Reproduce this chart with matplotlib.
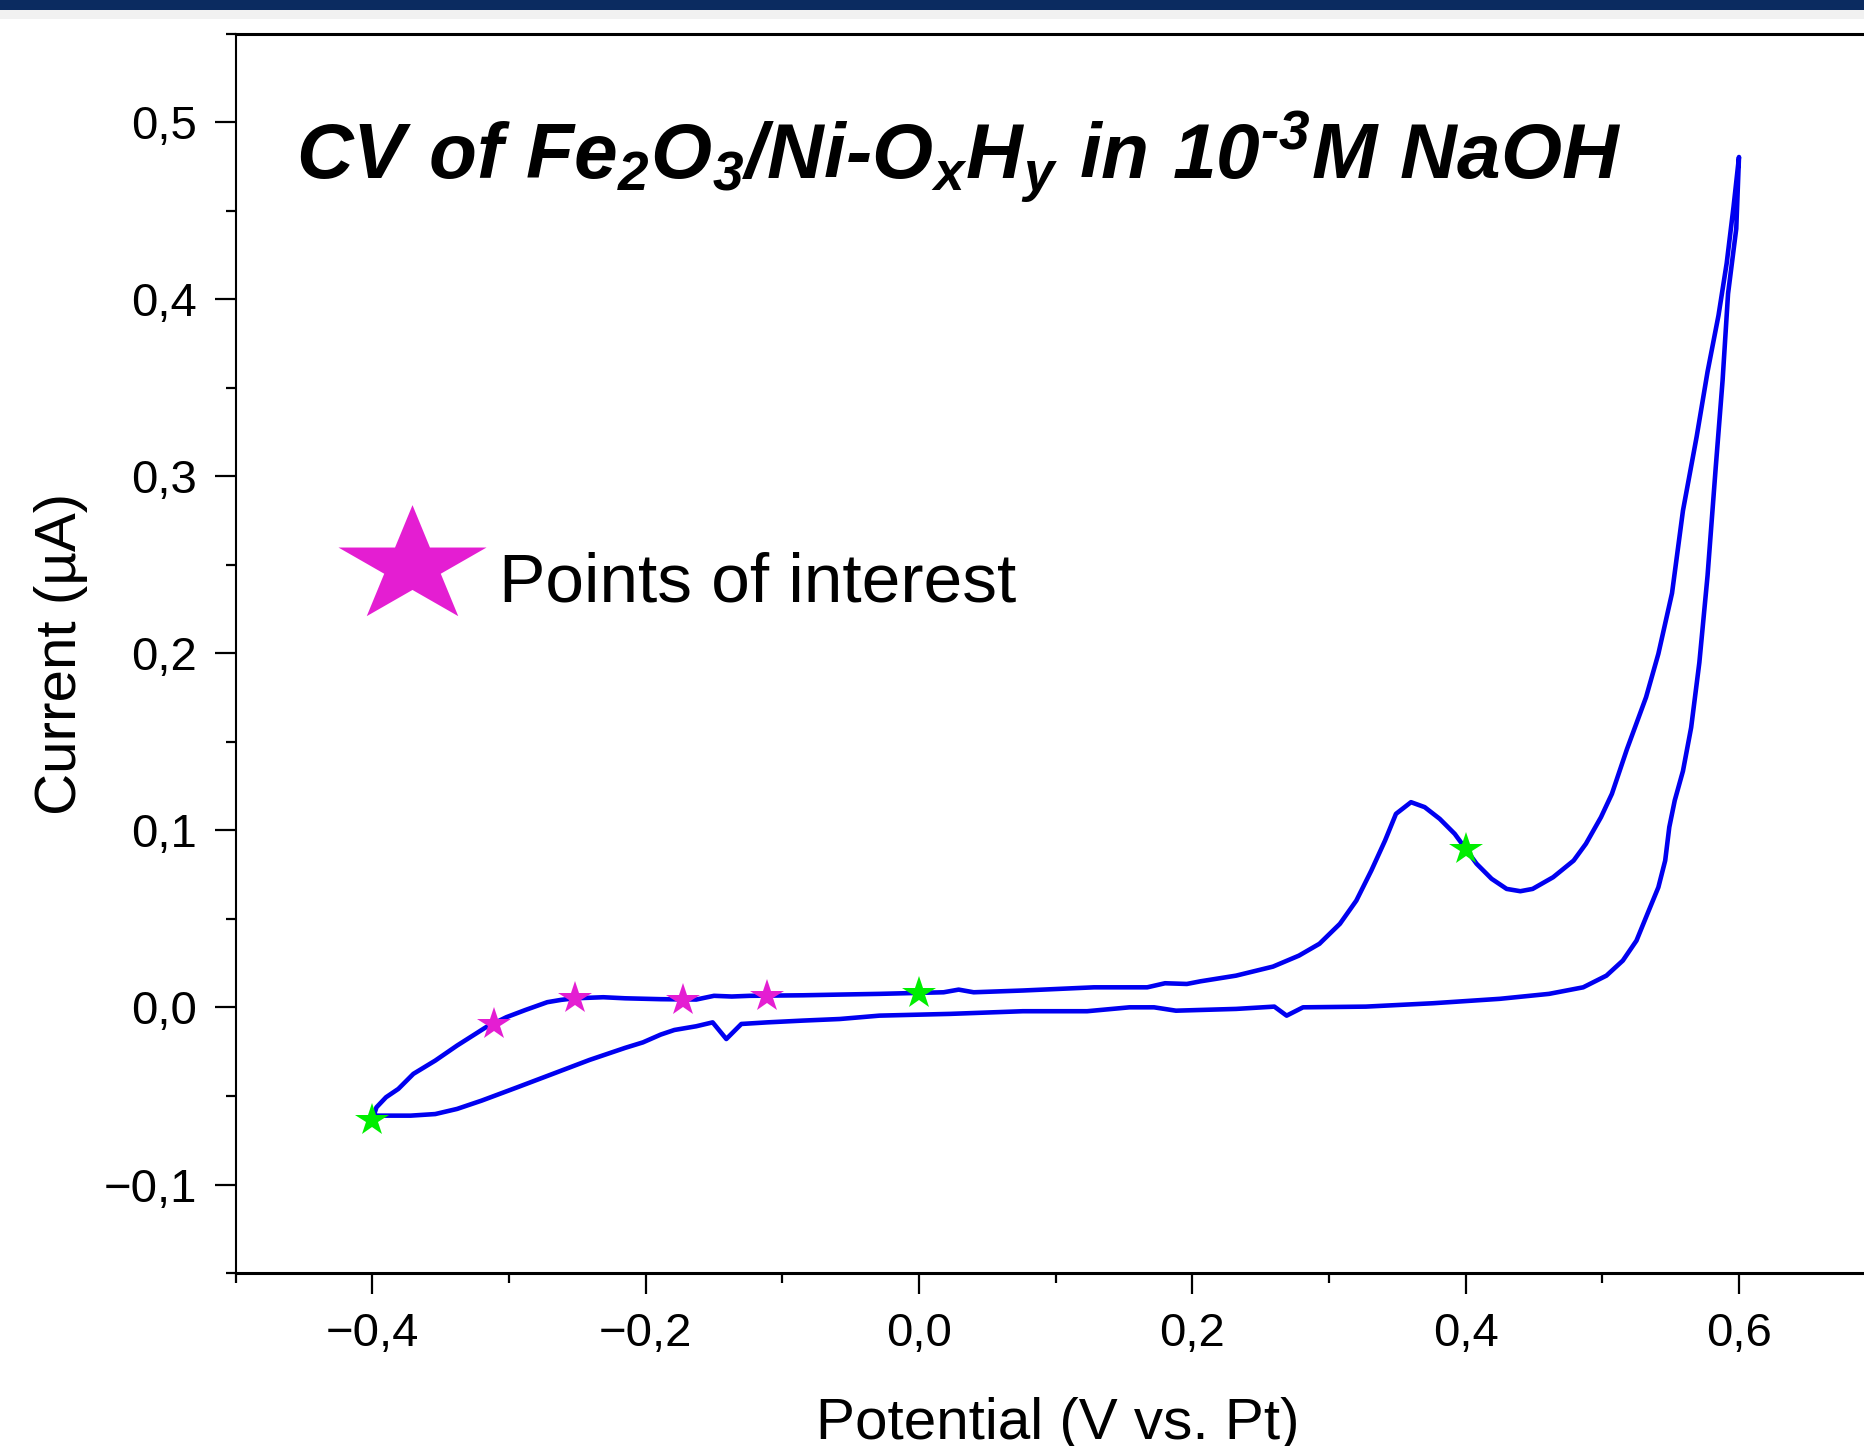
import numpy as np
import matplotlib
matplotlib.use('Agg')
import matplotlib.pyplot as plt
from matplotlib.path import Path
from matplotlib.patches import Rectangle
from matplotlib.ticker import MultipleLocator, FuncFormatter

plt.rcParams['font.family'] = ['Liberation Sans', 'DejaVu Sans']
# title uses mathtext for the sub/superscripts -> bold italic Arial-like face
plt.rcParams['mathtext.fontset'] = 'custom'
plt.rcParams['mathtext.rm'] = 'Liberation Sans:bold:italic'
plt.rcParams['mathtext.it'] = 'Liberation Sans:bold:italic'
plt.rcParams['mathtext.bf'] = 'Liberation Sans:bold:italic'

# anodic sweep, -0.4 V -> 0.6 V
forward_potential = [-0.400, -0.397, -0.390, -0.381, -0.370, -0.354, -0.338, -0.317,
                     -0.302, -0.288, -0.272, -0.262, -0.252, -0.231, -0.215, -0.189,
                     -0.163, -0.150, -0.137, -0.124, -0.085, -0.058, -0.029, 0.018,
                     0.029, 0.040, 0.076, 0.128, 0.167, 0.180, 0.196, 0.206,
                     0.232, 0.259, 0.278, 0.293, 0.308, 0.320, 0.331, 0.341,
                     0.349, 0.360, 0.370, 0.381, 0.392, 0.408, 0.419, 0.430,
                     0.440, 0.449, 0.464, 0.479, 0.488, 0.499, 0.507, 0.518,
                     0.532, 0.541, 0.551, 0.559, 0.569, 0.577, 0.585, 0.591,
                     0.596, 0.600]
forward_current = [-0.0635, -0.0564, -0.0507, -0.0460, -0.0375, -0.0300, -0.0215, -0.0112,
                   -0.0055, -0.0014, 0.0030, 0.0043, 0.0052, 0.0058, 0.0052, 0.0047,
                   0.0045, 0.0066, 0.0062, 0.0066, 0.0069, 0.0073, 0.0077, 0.0086,
                   0.0101, 0.0086, 0.0096, 0.0114, 0.0114, 0.0137, 0.0133, 0.0148,
                   0.0180, 0.0231, 0.0293, 0.0360, 0.0473, 0.0604, 0.0774, 0.0943,
                   0.1094, 0.1160, 0.1132, 0.1066, 0.0981, 0.0812, 0.0727, 0.0670,
                   0.0657, 0.0670, 0.0736, 0.0830, 0.0925, 0.1075, 0.1207, 0.1459,
                   0.1753, 0.1998, 0.2341, 0.2807, 0.3224, 0.3592, 0.3910, 0.4205,
                   0.4523, 0.4805]

# cathodic sweep, 0.6 V -> -0.4 V
reverse_potential = [0.598, 0.592, 0.588, 0.583, 0.577, 0.571, 0.565, 0.559,
                     0.553, 0.549, 0.546, 0.541, 0.533, 0.525, 0.515, 0.503,
                     0.486, 0.461, 0.425, 0.376, 0.327, 0.281, 0.269, 0.260,
                     0.232, 0.188, 0.172, 0.154, 0.123, 0.076, 0.023, -0.029,
                     -0.058, -0.085, -0.111, -0.130, -0.141, -0.151, -0.163, -0.179,
                     -0.189, -0.202, -0.215, -0.241, -0.268, -0.294, -0.320, -0.338,
                     -0.354, -0.372, -0.390, -0.400]
reverse_current = [0.4400, 0.4033, 0.3543, 0.3053, 0.2440, 0.1949, 0.1582, 0.1336,
                   0.1170, 0.1019, 0.0830, 0.0679, 0.0529, 0.0378, 0.0265, 0.0180,
                   0.0114, 0.0077, 0.0049, 0.0024, 0.0005, 0.0001, -0.0046, 0.0005,
                   -0.0008, -0.0018, 0.0001, 0.0001, -0.0021, -0.0021, -0.0036, -0.0046,
                   -0.0065, -0.0074, -0.0084, -0.0093, -0.0178, -0.0084, -0.0106, -0.0127,
                   -0.0153, -0.0197, -0.0228, -0.0296, -0.0375, -0.0451, -0.0526, -0.0573,
                   -0.0602, -0.0611, -0.0611, -0.0611]

# points of interest (magenta) and reference points (green)
interest_potential = [-0.311, -0.252, -0.173, -0.111]
interest_current = [-0.0093, 0.0052, 0.0045, 0.0066]
reference_potential = [-0.400, 0.000, 0.400]
reference_current = [-0.0635, 0.0083, 0.0897]

title_text = r'$\mathrm{CV\ of\ Fe_2O_3/Ni‐O_xH_y\ in\ 10^{‐3}M\ NaOH}$'
legend_text = 'Points of interest'
x_label = 'Potential (V vs. Pt)'
y_label = 'Current (µA)'

LINE_BLUE = '#0000F0'
MAGENTA = '#E41ED2'
GREEN = '#00EE00'


def comma_fmt(v, pos):
    v = round(v, 3)
    if abs(v) < 1e-9:
        v = 0.0
    return f'{v:.1f}'.replace('.', ',').replace('-', '\u2212')


def stretched_star(xscale=1.268):
    # five point star, wider than a regular one (as drawn in the original legend)
    ang = np.deg2rad(90 + 36 * np.arange(10))
    r = np.where(np.arange(10) % 2 == 0, 1.0, 0.382)
    verts = np.column_stack([r * np.cos(ang) * xscale, r * np.sin(ang)])
    verts = np.vstack([verts, verts[:1]])
    codes = [Path.MOVETO] + [Path.LINETO] * 9 + [Path.CLOSEPOLY]
    return Path(verts, codes)


fig = plt.figure(figsize=(18.64, 14.46), dpi=100)
fig.patch.set_facecolor('white')

# header strip of the slide the chart was cut from
fig.add_artist(Rectangle((0, 1 - 9.5 / 1446), 1, 9.5 / 1446, transform=fig.transFigure,
                         facecolor='#0B2B60', edgecolor='none', zorder=0))
fig.add_artist(Rectangle((0, 1 - 19 / 1446), 1, 9.5 / 1446, transform=fig.transFigure,
                         facecolor='#F1F1F1', edgecolor='none', zorder=0))

ax = fig.add_axes([0.12645, 0.11964, 0.8798, 0.85685])

potential = forward_potential + reverse_potential
current = forward_current + reverse_current
ax.plot(potential, current, color=LINE_BLUE, lw=3.3, solid_joinstyle='round',
        solid_capstyle='round', zorder=2)

ax.plot(interest_potential, interest_current, ls='none', marker='*', markersize=25,
        color=MAGENTA, markeredgewidth=0, zorder=3)
ax.plot(reference_potential, reference_current, ls='none', marker='*', markersize=25,
        color=GREEN, markeredgewidth=0, zorder=3)

ax.set_xlim(-0.5, 0.7)
ax.set_ylim(-0.15, 0.55)

ax.xaxis.set_major_locator(MultipleLocator(0.2))
ax.xaxis.set_minor_locator(MultipleLocator(0.1))
ax.yaxis.set_major_locator(MultipleLocator(0.1))
ax.yaxis.set_minor_locator(MultipleLocator(0.05))
ax.xaxis.set_major_formatter(FuncFormatter(comma_fmt))
ax.yaxis.set_major_formatter(FuncFormatter(comma_fmt))

ax.tick_params(which='major', direction='out', length=15, width=1.6, labelsize=34,
               top=False, right=False)
ax.tick_params(which='minor', direction='out', length=7.5, width=1.6,
               top=False, right=False)
ax.tick_params(axis='x', which='major', pad=13)
ax.tick_params(axis='y', which='major', pad=13)

ax.spines['right'].set_visible(False)
ax.spines['top'].set_linewidth(2.2)
ax.spines['bottom'].set_linewidth(2.2)
ax.spines['left'].set_linewidth(1.5)

ax.set_xlabel(x_label, fontsize=42)
ax.xaxis.set_label_coords(0.501, -0.134)
ax.xaxis.label.set_va('baseline')
ax.set_ylabel(y_label, fontsize=42)
ax.yaxis.set_label_coords(-0.0975, 0.5)
ax.yaxis.label.set_va('baseline')

ax.text(0.0368, 0.8832, title_text, transform=ax.transAxes, fontsize=56.5,
        ha='left', va='baseline')

# legend entry, drawn by hand
ax.plot([0.1075], [0.5703], transform=ax.transAxes, ls='none', marker=stretched_star(),
        markersize=106.6, color=MAGENTA, markeredgewidth=0, clip_on=False)
ax.text(0.1605, 0.5418, legend_text, transform=ax.transAxes, fontsize=50,
        ha='left', va='baseline')

fig.savefig('out.png', dpi=100)
